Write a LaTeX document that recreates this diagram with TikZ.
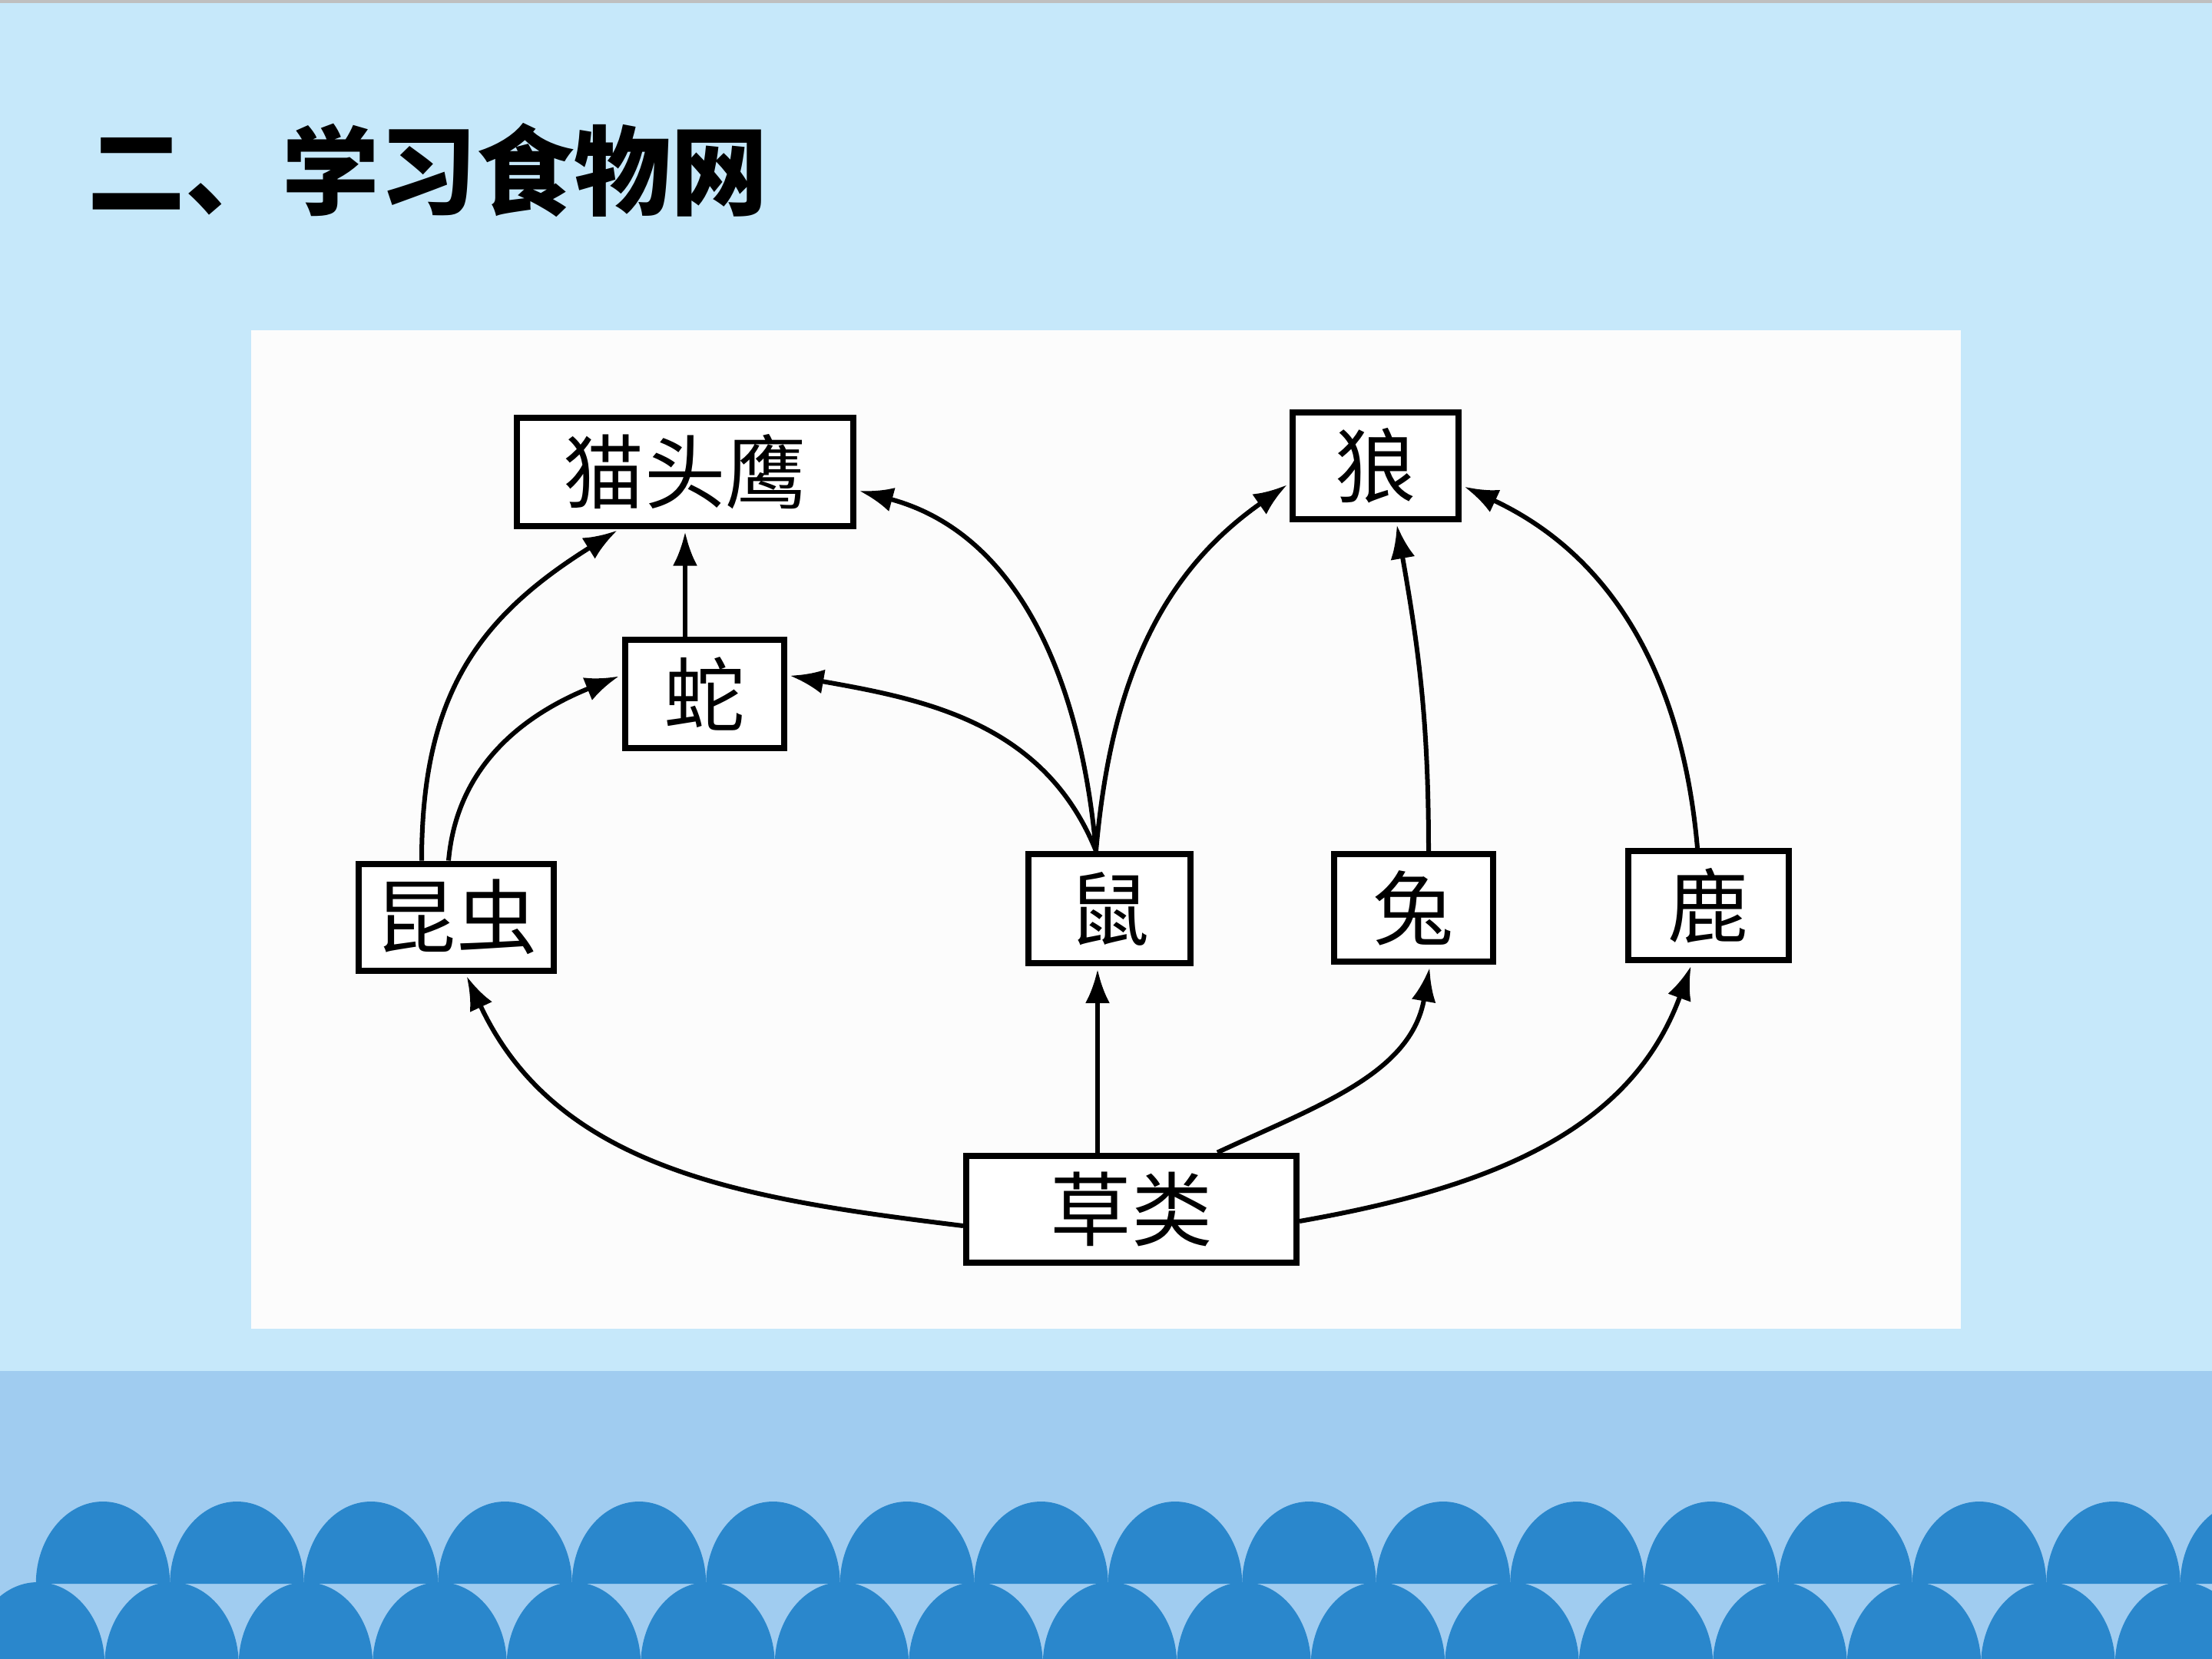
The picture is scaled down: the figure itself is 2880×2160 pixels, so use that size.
\documentclass[tikz,border=0pt]{standalone}
\usepackage{fontspec}
\newfontfamily\cjk{Noto Sans CJK SC}
\usetikzlibrary{arrows.meta,calc}
\definecolor{skybg}{HTML}{C6E8FA}
\definecolor{bandbg}{HTML}{A0CCF0}
\definecolor{scal}{HTML}{2A87CC}
\definecolor{panel}{HTML}{FCFCFC}
\tikzset{
  box/.style={draw=black, line width=0.8mm, fill=white, inner sep=0pt, font=\cjk\fontsize{30pt}{32pt}\selectfont},
  link/.style={line width=0.6mm, -{Latex[length=4.4mm,width=3.2mm]}, shorten >=0.4mm},
  scallop/.style={fill=scal},
}
\begin{document}
\begin{tikzpicture}[x=0.1mm,y=-0.1mm]
\useasboundingbox (0,0) rectangle (2880,2160);
\begin{scope}
\clip (0,0) rectangle (2880,2160);
\fill[skybg] (0,0) rectangle (2880,2160);
\fill[black!25] (0,0) rectangle (2880,4);
\fill[bandbg] (0,1785) rectangle (2880,2160);
\foreach \k in {0,...,16} {
  \fill[scallop] ({134+174.5*\k-87.25},2062) arc[start angle=180,end angle=0,x radius=8.725mm,y radius=10.7mm] -- cycle;
}
\foreach \k in {0,...,17} {
  \fill[scallop] ({49+174.5*\k-87.25},2167) arc[start angle=180,end angle=0,x radius=8.725mm,y radius=10.7mm] -- cycle;
}
\end{scope}
\fill[panel] (327,430) rectangle (2553,1730);

\node[anchor=west, inner sep=0pt, font=\cjk\bfseries\fontsize{36pt}{40pt}\selectfont] (title) at (114,222) {二、学习食物网};

\node[box, minimum width=43.8mm, minimum height=14.1mm] (owl) at (892,614) {猫头鹰};
\node[box, minimum width=21.6mm, minimum height=13.9mm] (wolf) at (1791,606) {狼};
\node[box, minimum width=20.7mm, minimum height=14.1mm] (snake) at (917,903) {蛇};
\node[box, minimum width=25.4mm, minimum height=13.9mm] (insect) at (594,1194) {昆虫};
\node[box, minimum width=21.1mm, minimum height=14.2mm] (mouse) at (1444,1183) {鼠};
\node[box, minimum width=20.7mm, minimum height=14.0mm] (rabbit) at (1840,1182) {兔};
\node[box, minimum width=20.9mm, minimum height=14.2mm] (deer) at (2224,1179) {鹿};
\node[box, minimum width=43.0mm, minimum height=13.9mm] (grass) at (1473,1574) {草类};

% insect
\draw[link] ($(insect.north)+(-45,0)$) to[out=90,in=-148,looseness=1.1] ($(owl.south)+(-85,0)$);
\draw[link] ($(insect.north)+(-10,0)$) to[out=85,in=-158] ($(snake.west)+(0,-24)$);
% snake
\draw[link] ($(snake.north)+(-25,0)$) -- (owl.south);
% mouse
\draw[link] ($(mouse.north)+(-17,0)$) to[out=95,in=-15] ($(owl.east)+(0,24)$);
\draw[link] ($(mouse.north)+(-17,0)$) to[out=112,in=-10] ($(snake.east)+(0,-24)$);
\draw[link] ($(mouse.north)+(-17,0)$) to[out=85,in=-145] ($(wolf.west)+(0,23)$);
% rabbit, deer
\draw[link] ($(rabbit.north)+(20,0)$) to[out=90,in=-80] ($(wolf.south)+(27,0)$);
\draw[link] ($(deer.north)+(-14,0)$) to[out=95,in=-25] ($(wolf.east)+(0,26)$);
% grass
\draw[link] ($(grass.west)+(0,22)$) to[out=173,in=-65] ($(insect.south)+(12,0)$);
\draw[link] ($(grass.north)+(-44,0)$) -- ($(mouse.south)+(-15,0)$);
\draw[link] ($(grass.north)+(112,0)$) to[out=25,in=-100] ($(rabbit.south)+(22,0)$);
\draw[link] ($(grass.east)+(0,16)$) to[out=10,in=-110] ($(deer.south)+(-21,0)$);
\end{tikzpicture}
\end{document}
